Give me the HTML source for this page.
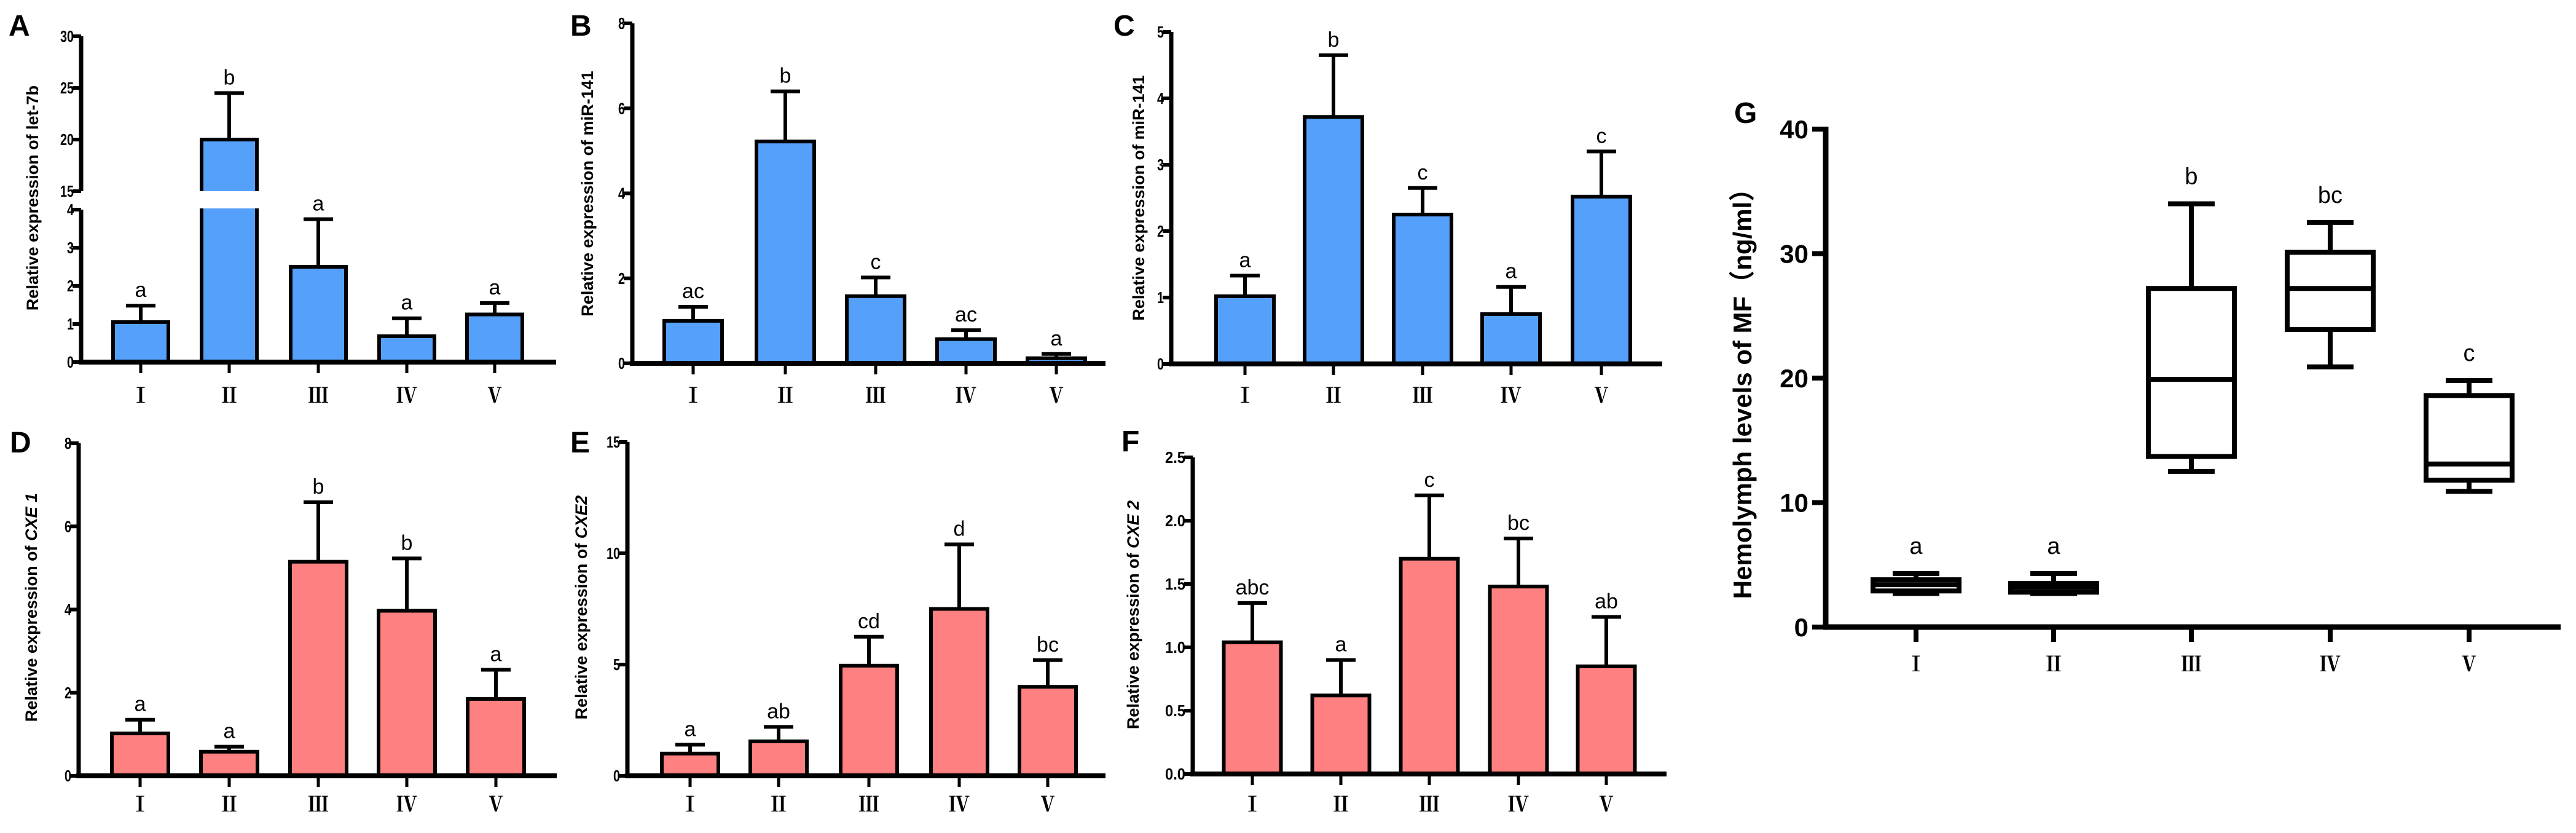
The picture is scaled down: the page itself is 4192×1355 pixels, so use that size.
<!DOCTYPE html>
<html><head><meta charset="utf-8"><style>
html,body{margin:0;padding:0;background:#fff;}
svg{display:block;}
text{font-family:"Liberation Sans",sans-serif;}
.tick{font-size:26px;font-weight:bold;}
text.num{font-family:"Liberation Serif","Noto Serif CJK SC",serif;font-size:34px;font-weight:bold;}
.let{font-size:34px;}
.ylab{font-size:27px;font-weight:bold;}
.plab{font-size:48px;font-weight:bold;}
</style></head><body>
<svg id="fig" width="4192" height="1355" viewBox="0 0 4192 1355" xmlns="http://www.w3.org/2000/svg"></svg>
<script>
const categories = ["Ⅰ","Ⅱ","Ⅲ","Ⅳ","Ⅴ"];
// Panel A
const aValues = [1.05, 20.0, 2.5, 0.68, 1.25];
const aErrors = [1.48, 24.5, 3.75, 1.15, 1.55];
const aLetters = ["a","b","a","a","a"];
const aTicksLow = [0,1,2,3,4];
const aTicksHigh = [15,20,25,30];
// Panel B
const bValues = [1.0, 5.22, 1.58, 0.57, 0.12];
const bErrors = [1.33, 6.4, 2.02, 0.78, 0.22];
const bLetters = ["ac","b","c","ac","a"];
const bTicks = [0,2,4,6,8];
// Panel C
const cValues = [1.02, 3.72, 2.25, 0.75, 2.52];
const cErrors = [1.33, 4.65, 2.65, 1.16, 3.2];
const cLetters = ["a","b","c","a","c"];
const cTicks = [0,1,2,3,4,5];
// Panel D
const dValues = [1.02, 0.58, 5.15, 3.97, 1.85];
const dErrors = [1.35, 0.7, 6.58, 5.23, 2.55];
const dLetters = ["a","a","b","b","a"];
const dTicks = [0,2,4,6,8];
// Panel E
const eValues = [1.0, 1.55, 4.95, 7.5, 4.0];
const eErrors = [1.4, 2.2, 6.25, 10.4, 5.2];
const eLetters = ["a","ab","cd","d","bc"];
const eTicks = [0,5,10,15];
// Panel F
const fValues = [1.04, 0.62, 1.7, 1.48, 0.85];
const fErrors = [1.35, 0.9, 2.2, 1.86, 1.24];
const fLetters = ["abc","a","c","bc","ab"];
const fTicks = ["0.0","0.5","1.0","1.5","2.0","2.5"];
// Panel G (box plots)
const gMin = [2.7, 2.7, 12.5, 20.9, 10.9];
const gQ1 = [2.9, 2.8, 13.7, 23.9, 11.8];
const gMed = [3.4, 3.2, 19.9, 27.2, 13.1];
const gQ3 = [3.8, 3.5, 27.2, 30.1, 18.6];
const gMax = [4.3, 4.3, 34.0, 32.5, 19.8];
const gLetters = ["a","a","b","bc","c"];
const gTicks = [0,10,20,30,40];

const NS="http://www.w3.org/2000/svg";
const svg=document.getElementById('fig');
function mk(tag,attrs,parent,txt){const e=document.createElementNS(NS,tag);for(const k in attrs)e.setAttribute(k,attrs[k]);if(txt!==undefined)e.textContent=txt;(parent||svg).appendChild(e);return e;}

function barPanel(cfg){
  const g=mk('g',{});
  
  
  const y=cfg.y, ax=cfg.ax, xEnd=cfg.xEnd, y0=cfg.y0;
  const pl=mk('text',{x:cfg.lx,y:cfg.ly,class:'plab'},g,cfg.id);
  
  
  cfg.values.forEach((v,i)=>{
    const cx=cfg.cx[i], hw=cfg.bw/2;
    const top=y(v);
    const b=mk('rect',{x:cx-hw,y:top,width:cfg.bw,height:y0-top,fill:cfg.color,stroke:'#000','stroke-width':6},g);
    
    
    const et=y(cfg.errors[i]);
    const e=mk('path',{d:`M${cx},${top} V${et} M${cx-24},${et} H${cx+24}`,stroke:'#000','stroke-width':6,fill:'none'},g);
    
    
    const l=mk('text',{x:cx,y:et-14,class:'let','text-anchor':'middle'},g,cfg.letters[i]);
    
    
    const tk=mk('line',{x1:cx,y1:y0,x2:cx,y2:y0+18,stroke:'#000','stroke-width':5},g);
    
    
    const c=mk('text',{x:cx,y:cfg.catY,class:'num','text-anchor':'middle'},g,categories[i]);
    
    
  });
  if(cfg.breakBar!==undefined){
    const cx=cfg.cx[cfg.breakBar];
    mk('rect',{x:cx-cfg.bw/2-5,y:cfg.breakY1,width:cfg.bw+10,height:cfg.breakY2-cfg.breakY1,fill:'#fff'},g);
  }
  const xa=mk('line',{x1:ax-4,y1:y0,x2:xEnd,y2:y0,stroke:'#000','stroke-width':8},g);
  
  
  (cfg.axisSegs).forEach(s=>{
    const ya=mk('line',{x1:ax,y1:s[0],x2:ax,y2:s[1],stroke:'#000','stroke-width':7},g);
    
    
  });
  cfg.ticks.forEach(t=>{
    const ty=y(parseFloat(t));
    const tl=mk('line',{x1:ax-14,y1:ty,x2:ax,y2:ty,stroke:'#000','stroke-width':6},g);
    
    
    const tt=mk('text',{x:ax-12,y:ty+9,class:'tick','text-anchor':'end',textLength:(String(t).length*11),lengthAdjust:'spacingAndGlyphs'},g,String(t));
    
    
  });
  const yl=mk('text',{x:0,y:0,class:'ylab','text-anchor':'middle',transform:`translate(${cfg.ylx},${cfg.yly}) rotate(-90)`},g);
  
  
  mk('tspan',{},yl,cfg.ylab1);
  mk('tspan',{'font-style':cfg.italic?'italic':'normal'},yl,cfg.ylab2);
}

const blue='#55a0fb', red='#ff8080';
function yA(v){return v<=4?589-v*62:311-(v-15)*16.8;}
barPanel({id:'A',y:yA,ax:132,xEnd:905,y0:589,cx:[229,373,518,662,805],bw:90,values:aValues,errors:aErrors,letters:aLetters,
  ticks:aTicksLow.concat(aTicksHigh),axisSegs:[[59,311],[341,592]],breakBar:1,breakY1:311,breakY2:339,color:blue,catY:655,
  lx:14,ly:58,ylx:62,yly:322,ylab1:'Relative expression of  ',ylab2:'let-7b'});
function lin(y0,yTop,max){return v=>y0-(y0-yTop)*v/max;}
barPanel({id:'B',y:lin(591,38,8),ax:1029,xEnd:1799,y0:591,cx:[1128,1278,1425,1572,1719],bw:94,values:bValues,errors:bErrors,letters:bLetters,
  ticks:bTicks,axisSegs:[[38,594]],color:blue,catY:655,lx:928,ly:58,ylx:965,yly:315,ylab1:'Relative expression of miR-141',ylab2:''});
barPanel({id:'C',y:lin(592,52,5),ax:1906,xEnd:2705,y0:592,cx:[2026,2170,2315,2459,2606],bw:94,values:cValues,errors:cErrors,letters:cLetters,
  ticks:cTicks,axisSegs:[[52,595]],color:blue,catY:655,lx:1812,ly:58,ylx:1862,yly:322,ylab1:'Relative expression of  miR-141',ylab2:''});
barPanel({id:'D',y:lin(1262,721,8),ax:128,xEnd:906,y0:1262,cx:[228,373,518,662,807],bw:92,values:dValues,errors:dErrors,letters:dLetters,
  ticks:dTicks,axisSegs:[[721,1265]],color:red,catY:1320,lx:16,ly:736,ylx:60,yly:988,ylab1:'Relative expression of ',ylab2:'CXE 1',italic:true});
barPanel({id:'E',y:lin(1262,719,15),ax:1021,xEnd:1799,y0:1262,cx:[1123,1267,1414,1561,1705],bw:92,values:eValues,errors:eErrors,letters:eLetters,
  ticks:eTicks,axisSegs:[[719,1265]],color:red,catY:1320,lx:928,ly:736,ylx:955,yly:988,ylab1:'Relative expression of ',ylab2:'CXE2',italic:true});
barPanel({id:'F',y:lin(1259,744,2.5),ax:1941,xEnd:2712,y0:1259,cx:[2038,2182,2326,2471,2614],bw:93,values:fValues,errors:fErrors,letters:fLetters,
  ticks:fTicks,axisSegs:[[744,1262]],color:red,catY:1320,lx:1825,ly:734,ylx:1853,yly:1000,ylab1:'Relative expression of ',ylab2:'CXE 2',italic:true});

(function(){
  const g=mk('g',{});
  
  
  const ax=2971,y0=1020,yTop=210;
  const y=v=>y0-(y0-yTop)*v/40;
  const cx=[3118,3342,3566,3792,4018];
  const pl=mk('text',{x:2822,y:200,class:'plab'},g,'G');
  
  
  cx.forEach((x,i)=>{
    const hw=70,cw=38;
    const bx=mk('path',{d:`M${x},${y(gMin[i])} V${y(gQ1[i])} M${x},${y(gQ3[i])} V${y(gMax[i])} M${x-cw},${y(gMin[i])} H${x+cw} M${x-cw},${y(gMax[i])} H${x+cw} M${x-hw},${y(gMed[i])} H${x+hw}`,stroke:'#000','stroke-width':8,fill:'none'},g);
    
    
    const r=mk('rect',{x:x-hw,y:y(gQ3[i]),width:hw*2,height:y(gQ1[i])-y(gQ3[i]),fill:'none',stroke:'#000','stroke-width':8},g);
    
    
    const l=mk('text',{x:x,y:y(gMax[i])-32,'font-size':38,'text-anchor':'middle'},g,gLetters[i]);
    
    
    const tk=mk('line',{x1:x,y1:y0,x2:x,y2:y0+24,stroke:'#000','stroke-width':8},g);
    
    
    const c=mk('text',{x:x,y:1092,class:'num','font-size':40,'text-anchor':'middle'},g,categories[i]);
    
    
  });
  const xa=mk('line',{x1:ax-4,y1:y0,x2:4167,y2:y0,stroke:'#000','stroke-width':9},g);
  
  
  const ya=mk('line',{x1:ax,y1:yTop-4,x2:ax,y2:y0+4,stroke:'#000','stroke-width':9},g);
  
  
  gTicks.forEach(t=>{
    const tl=mk('line',{x1:ax-22,y1:y(t),x2:ax,y2:y(t),stroke:'#000','stroke-width':8},g);
    
    
    const tt=mk('text',{x:ax-28,y:y(t)+15,'font-size':42,'font-weight':'bold','text-anchor':'end'},g,String(t));
    
    
  });
  const yl=mk('text',{x:0,y:0,'font-size':42,'font-weight':'bold','text-anchor':'middle',transform:'translate(2850,630) rotate(-90)'},g,'Hemolymph levels of MF（ng/ml）');
  
  
  yl.style.fontFamily='"Liberation Sans","Noto Sans CJK SC",sans-serif';
})();
</script>
</body></html>
